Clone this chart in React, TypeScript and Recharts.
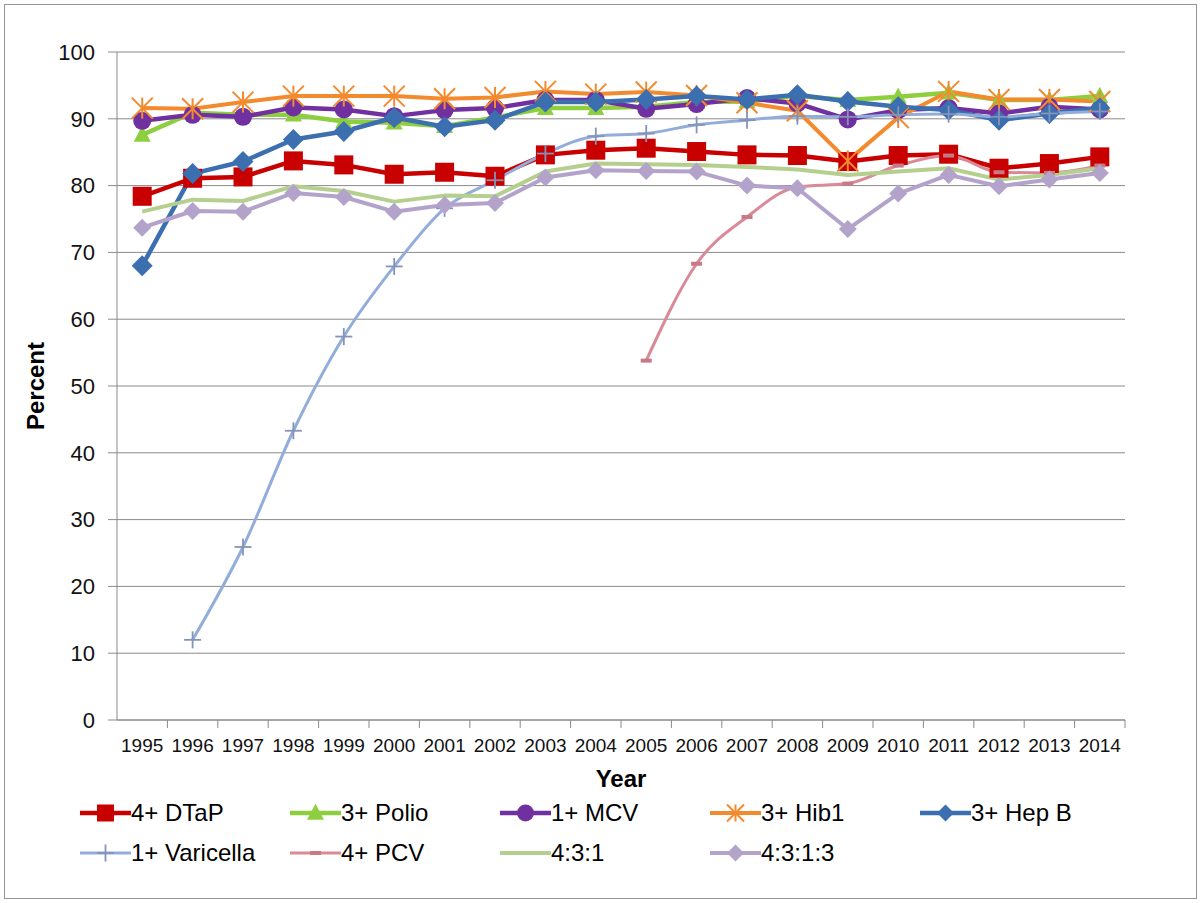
import React from 'react'
import { LineChart, Line, XAxis, YAxis, CartesianGrid } from 'recharts'

// values (percent)
const years = ['1995', '1996', '1997', '1998', '1999', '2000', '2001', '2002', '2003', '2004', '2005', '2006', '2007', '2008', '2009', '2010', '2011', '2012', '2013', '2014']
const dtap = [78.4, 81.1, 81.3, 83.7, 83.1, 81.7, 82.0, 81.4, 84.6, 85.3, 85.6, 85.1, 84.6, 84.5, 83.6, 84.5, 84.7, 82.6, 83.3, 84.3]
const polio = [87.6, 90.9, 90.6, 90.6, 89.6, 89.4, 88.9, 90.2, 91.6, 91.6, 91.8, 92.5, 92.6, 93.4, 92.8, 93.3, 93.9, 92.8, 92.8, 93.4]
const mcv = [89.7, 90.6, 90.3, 91.7, 91.4, 90.4, 91.3, 91.6, 92.8, 92.8, 91.5, 92.2, 93.1, 92.3, 89.9, 91.3, 91.6, 90.8, 91.8, 91.4]
const hib = [91.6, 91.5, 92.5, 93.4, 93.4, 93.4, 93.0, 93.2, 94.1, 93.7, 94.0, 93.5, 92.4, 91.2, 83.7, 90.2, 94.1, 92.9, 92.9, 92.6]
const hepB = [68.0, 81.8, 83.6, 86.9, 88.1, 90.2, 88.8, 89.8, 92.5, 92.5, 92.9, 93.4, 92.9, 93.6, 92.6, 91.8, 91.3, 89.8, 90.8, 91.6]
const varicella = [null, 12.0, 25.9, 43.3, 57.4, 67.9, 76.6, 80.8, 84.8, 87.4, 87.8, 89.1, 89.8, 90.4, 90.3, 90.6, 90.7, 90.3, 90.8, 91.1]
const pcv = [null, null, null, null, null, null, null, null, null, null, 53.8, 68.3, 75.3, 79.8, 80.3, 83.0, 84.5, 82.0, 81.9, 83.0]
const s431 = [76.1, 77.9, 77.7, 79.9, 79.2, 77.6, 78.5, 78.4, 82.1, 83.3, 83.2, 83.1, 82.8, 82.4, 81.6, 82.1, 82.6, 80.9, 81.6, 82.6]
const s4313 = [73.7, 76.2, 76.1, 78.9, 78.3, 76.1, 77.1, 77.4, 81.2, 82.3, 82.2, 82.1, 80.0, 79.6, 73.5, 78.8, 81.6, 79.9, 80.9, 81.9]
const yTicks = [0, 10, 20, 30, 40, 50, 60, 70, 80, 90, 100]

const data = years.map((year, i) => ({
  year,
  dtap: dtap[i],
  polio: polio[i],
  mcv: mcv[i],
  hib: hib[i],
  hepB: hepB[i],
  varicella: varicella[i],
  pcv: pcv[i],
  s431: s431[i],
  s4313: s4313[i],
}))

const FONT = "'Liberation Sans', Arial, sans-serif"
const GRID = '#8a8a8a'

type Shape = 'square' | 'triangle' | 'circle' | 'star' | 'diamond' | 'plus' | 'dash' | 'none'

interface SeriesDef {
  key: string
  name: string
  color: string
  width: number
  shape: Shape
  size: number
  markerColor?: string
  smooth?: boolean
}

const series: SeriesDef[] = [
  { key: 'dtap', name: '4+ DTaP', color: '#C80000', width: 4.5, shape: 'square', size: 19 },
  { key: 'polio', name: '3+ Polio', color: '#8DCF3F', width: 4.5, shape: 'triangle', size: 17 },
  { key: 'mcv', name: '1+ MCV', color: '#7030A0', width: 4.5, shape: 'circle', size: 18 },
  { key: 'hib', name: '3+ Hib1', color: '#F38A2E', width: 4, shape: 'star', size: 21 },
  { key: 'hepB', name: '3+ Hep B', color: '#3B6FB0', width: 4.5, shape: 'diamond', size: 21 },
  { key: 'varicella', name: '1+ Varicella', color: '#93ADDB', width: 3, shape: 'plus', size: 17, markerColor: '#8493B8', smooth: true },
  { key: 'pcv', name: '4+ PCV', color: '#D98A96', width: 3, shape: 'dash', size: 11, markerColor: '#C97886', smooth: true },
  { key: 's431', name: '4:3:1', color: '#B5CF8F', width: 4, shape: 'none', size: 0 },
  { key: 's4313', name: '4:3:1:3', color: '#B3A3CB', width: 4, shape: 'diamond', size: 18 },
]

function drawMarker(shape: Shape, x: number, y: number, s: number, color: string) {
  const h = s / 2
  switch (shape) {
    case 'square':
      return <rect x={x - h} y={y - h} width={s} height={s} fill={color} />
    case 'triangle':
      return <polygon points={`${x},${y - s * 0.55} ${x + h},${y + s * 0.4} ${x - h},${y + s * 0.4}`} fill={color} />
    case 'circle':
      return <circle cx={x} cy={y} r={h} fill={color} />
    case 'diamond':
      return <polygon points={`${x},${y - h} ${x + h},${y} ${x},${y + h} ${x - h},${y}`} fill={color} />
    case 'star':
      return (
        <g stroke={color} strokeWidth={2}>
          <line x1={x - h} y1={y - h} x2={x + h} y2={y + h} />
          <line x1={x - h} y1={y + h} x2={x + h} y2={y - h} />
          <line x1={x} y1={y - h} x2={x} y2={y + h} />
        </g>
      )
    case 'plus':
      return (
        <g stroke={color} strokeWidth={1.8}>
          <line x1={x - h} y1={y} x2={x + h} y2={y} />
          <line x1={x} y1={y - h} x2={x} y2={y + h} />
        </g>
      )
    case 'dash':
      return <rect x={x - h} y={y - 2} width={s} height={4} fill={color} />
    default:
      return null
  }
}

function makeDot(s: SeriesDef) {
  return (props: any) => {
    const { cx, cy, index, value } = props
    if (s.shape === 'none' || value == null || cx == null || cy == null) {
      return <g key={`${s.key}-${index}`} />
    }
    return <g key={`${s.key}-${index}`}>{drawMarker(s.shape, cx, cy, s.size, s.markerColor || s.color)}</g>
  }
}

function YearTick(props: any) {
  const { x, y, payload } = props
  const off = payload.offset ?? 25.2
  return (
    <g>
      <line x1={x + off} y1={y} x2={x + off} y2={y + 8} stroke={GRID} />
      <text x={x} y={y + 32} textAnchor="middle" fontSize={19} fontFamily={FONT} fill="#111">
        {payload.value}
      </text>
    </g>
  )
}

function PercentLabel(props: any) {
  const vb = props.viewBox
  const cx = vb.x + 25
  const cy = vb.y + vb.height / 2
  return (
    <text x={cx} y={cy} transform={`rotate(-90 ${cx} ${cy})`} textAnchor="middle" dominantBaseline="central"
      fontSize={24} fontWeight="bold" fontFamily={FONT} fill="#000">
      Percent
    </text>
  )
}

function YearLabel(props: any) {
  const vb = props.viewBox
  return (
    <text x={vb.x + vb.width / 2} y={vb.y + 67} textAnchor="middle" fontSize={24} fontWeight="bold" fontFamily={FONT} fill="#000">
      Year
    </text>
  )
}

function LegendBox() {
  return (
    <div style={{ position: 'absolute', left: 80, top: 793, width: 1100, display: 'flex', flexWrap: 'wrap', fontFamily: FONT, fontSize: 24, color: '#000' }}>
      {series.map((s) => (
        <div key={s.key} style={{ width: 210, height: 40, display: 'flex', alignItems: 'center' }}>
          <svg width={51} height={30} style={{ flex: 'none' }}>
            <line x1={0} y1={15} x2={51} y2={15} stroke={s.color} strokeWidth={s.width} />
            {drawMarker(s.shape, 25.5, 15, Math.min(s.size, 17), s.markerColor || s.color)}
          </svg>
          <span style={{ whiteSpace: 'nowrap' }}>{s.name}</span>
        </div>
      ))}
    </div>
  )
}

export default function App() {
  return (
    <div style={{ position: 'absolute', left: 0, top: 0, width: 1201, height: 903, background: '#fff' }}>
      <div style={{ position: 'absolute', left: 4, top: 4, width: 1191, height: 893, border: '1.5px solid #959595' }} />
      <div style={{ position: 'absolute', left: 0, top: 0 }}>
        <LineChart width={1201} height={903} data={data} margin={{ top: 52, right: 76, bottom: 108, left: 10 }}>
          <CartesianGrid vertical={false} stroke={GRID} strokeWidth={1} />
          <XAxis
            dataKey="year"
            scale="band"
            height={75}
            axisLine={{ stroke: GRID }}
            tickLine={false}
            tickSize={0}
            tickMargin={0}
            interval={0}
            tick={<YearTick />}
            label={<YearLabel />}
          />
          <YAxis
            domain={[0, 100]}
            ticks={yTicks}
            width={107}
            axisLine={{ stroke: GRID }}
            tickLine={{ stroke: GRID }}
            tickSize={9}
            tickMargin={13}
            tick={{ fontSize: 22, fontFamily: FONT, fill: '#111' }}
            label={<PercentLabel />}
          />
          {series.map((s) => (
            <Line
              key={s.key}
              dataKey={s.key}
              name={s.name}
              type={s.smooth ? 'monotone' : 'linear'}
              stroke={s.color}
              strokeWidth={s.width}
              strokeLinejoin="round"
              dot={makeDot(s)}
              activeDot={false}
              connectNulls={false}
              isAnimationActive={false}
            />
          ))}
        </LineChart>
      </div>
      <LegendBox />
    </div>
  )
}
